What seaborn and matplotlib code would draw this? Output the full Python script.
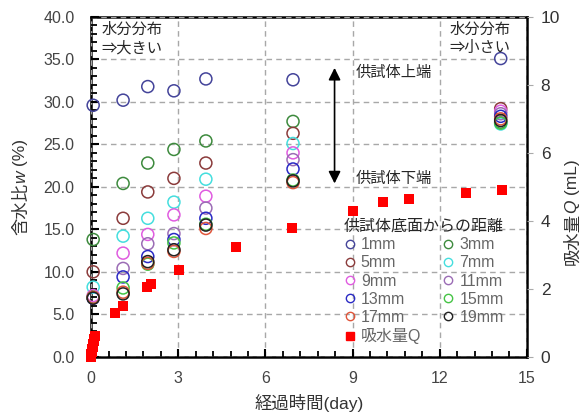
import numpy as np
import pandas as pd
import matplotlib
matplotlib.use("Agg")
import matplotlib.pyplot as plt
from matplotlib.ticker import MultipleLocator, FixedLocator, FormatStrFormatter
from matplotlib.lines import Line2D
from matplotlib.transforms import IdentityTransform
import seaborn as sns

# --- data ---
times_w = [0.07, 1.1, 1.95, 2.85, 3.95, 6.95, 14.1]
depths = ["1mm", "3mm", "5mm", "7mm", "9mm", "11mm", "13mm", "15mm", "17mm", "19mm"]
w_1mm = [29.6, 30.2, 31.8, 31.3, 32.7, 32.6, 35.1]
w_3mm = [13.8, 20.4, 22.8, 24.4, 25.4, 27.7, 27.6]
w_5mm = [10.0, 16.3, 19.4, 21.0, 22.8, 26.3, 29.2]
w_7mm = [8.2, 14.2, 16.3, 18.2, 20.9, 25.1, 27.4]
w_9mm = [7.2, 12.2, 14.4, 16.7, 18.9, 24.0, 28.9]
w_11mm = [7.0, 10.4, 13.3, 14.5, 17.5, 23.2, 28.6]
w_13mm = [6.9, 9.4, 11.8, 13.8, 16.3, 22.1, 28.3]
w_15mm = [7.0, 8.1, 10.9, 13.4, 15.6, 20.8, 27.5]
w_17mm = [7.0, 7.6, 11.0, 12.4, 15.1, 20.5, 28.0]
w_19mm = [6.9, 7.4, 11.2, 12.6, 15.5, 20.7, 27.8]

times_q = [0.0, 0.01, 0.02, 0.03, 0.05, 0.07, 0.09, 0.11, 0.13, 0.83, 1.11,
           1.94, 2.05, 3.04, 5.0, 6.92, 9.0, 10.05, 10.94, 12.9, 14.13]
q_ml = [0.0, 0.08, 0.15, 0.22, 0.3, 0.38, 0.45, 0.52, 0.6, 1.3, 1.5,
        2.05, 2.15, 2.56, 3.24, 3.8, 4.3, 4.54, 4.65, 4.83, 4.91]

colors = ["#44449a", "#3d8a3d", "#8b3b3b", "#45dede", "#e05ce0",
          "#9b6cb5", "#2a2ac4", "#45c445", "#e0553a", "#222222"]

w_all = [w_1mm, w_3mm, w_5mm, w_7mm, w_9mm, w_11mm, w_13mm, w_15mm, w_17mm, w_19mm]
df_w = pd.DataFrame([(t, v, d) for d, vals in zip(depths, w_all)
                     for t, v in zip(times_w, vals)], columns=["day", "w", "depth"])
df_q = pd.DataFrame({"day": times_q, "Q": q_ml})

sns.set_style("white")
plt.rcParams["font.family"] = ["Liberation Sans", "Noto Sans CJK JP", "DejaVu Sans"]

fig = plt.figure(figsize=(5.88, 4.12), dpi=100)
ax = fig.add_axes([0.155, 0.134, 0.741, 0.825])

sns.scatterplot(data=df_w, x="day", y="w", hue="depth", hue_order=depths,
                palette=colors, ax=ax, s=75, marker="o",
                linewidth=1.1, legend=False, clip_on=False, zorder=3)
# open circles: edge colour from hue
for coll in ax.collections:
    coll.set_edgecolors(coll.get_facecolors())
    coll.set_facecolors("none")

ax2 = ax.twinx()
sns.scatterplot(data=df_q, x="day", y="Q", ax=ax2, color="#ff0000", marker="s",
                s=60, edgecolor="#ff0000", linewidth=0, legend=False,
                clip_on=False, zorder=4)

ax.set_xlim(0, 15)
ax.set_ylim(0, 40)
ax2.set_ylim(0, 10)

ax.xaxis.set_major_locator(MultipleLocator(3))
ax.xaxis.set_minor_locator(FixedLocator(np.arange(0, 15.01, 0.6)))
ax.yaxis.set_major_locator(MultipleLocator(5))
ax.yaxis.set_minor_locator(MultipleLocator(1))
ax.yaxis.set_major_formatter(FormatStrFormatter("%.1f"))
ax2.yaxis.set_major_locator(MultipleLocator(2))
ax2.yaxis.set_minor_locator(plt.NullLocator())

ax.grid(True, which="major", linestyle=(0, (4, 3)), color="#a8a8a8", linewidth=1.0)
ax.set_axisbelow(False)
for sp in ax.spines.values():
    sp.set_linewidth(1.8)
    sp.set_color("black")
for sp in ax2.spines.values():
    sp.set_visible(False)

ax.xaxis.set_tick_params(which="both", bottom=True, top=False, direction="in",
                         color="black", labelcolor="#444444", labelsize=11.5, pad=10)
ax.yaxis.set_tick_params(which="both", left=True, right=False, direction="in",
                         color="black", labelcolor="#444444", labelsize=11.5, pad=12)
ax.tick_params(which="major", length=6, width=1.5)
ax.tick_params(which="minor", length=4, width=1.3)
ax2.yaxis.set_tick_params(which="major", direction="out", length=4, color="#aaaaaa",
                          right=True, left=False, labelcolor="#333333",
                          labelsize=12.5, pad=6)

ax.set_xlabel("経過時間(day)", fontsize=12.5, color="#333333", labelpad=6)
ax.set_ylabel("")
ax2.set_ylabel("")


def vlabel(parts, xc, yc):
    # rotated label made of pieces so the variable can be italic
    r = fig.canvas.get_renderer()
    arts = [fig.text(0, 0, s, rotation=90, fontsize=12.5, fontstyle=st,
                     color="#333333", ha="center", va="bottom",
                     transform=IdentityTransform()) for s, st in parts]
    hs = [a.get_window_extent(r).height for a in arts]
    y = yc - sum(hs) / 2
    for a, h in zip(arts, hs):
        a.set_position((xc, y))
        y += h


vlabel([("含水比", "normal"), ("w", "italic"), (" (%)", "normal")], 21, 412 - 187)
vlabel([("吸水量", "normal"), ("Q", "italic"), (" (mL)", "normal")], 572, 412 - 212)

# annotations
ax.text(0.35, 39.3, "水分分布\n⇒大きい", fontsize=11, va="top", ha="left",
        linespacing=1.35)
ax.text(12.35, 39.3, "水分分布\n⇒小さい", fontsize=11, va="top", ha="left",
        linespacing=1.35)
ax.text(9.1, 33.4, "供試体上端", fontsize=11, va="center", ha="left")
ax.text(9.1, 20.9, "供試体下端", fontsize=11, va="center", ha="left")
ax.annotate("", xy=(8.38, 34.0), xytext=(8.38, 20.4),
            arrowprops=dict(arrowstyle="<|-|>", color="black", lw=1.2,
                            mutation_scale=18, shrinkA=0, shrinkB=0))

# legend
handles = [Line2D([], [], linestyle="none", marker="o", markersize=6,
                  markerfacecolor="none", markeredgecolor=c, markeredgewidth=1.0,
                  label=d) for d, c in zip(depths, colors)]
q_handle = Line2D([], [], linestyle="none", marker="s", markersize=6,
                  color="#ff0000", label="吸水量Q")
order = [handles[i] for i in (0, 2, 4, 6, 8)] + [q_handle] + \
        [handles[i] for i in (1, 3, 5, 7, 9)]
leg = ax.legend(handles=order, ncol=2, title="供試体底面からの距離",
                loc="upper left", bbox_to_anchor=(0.575, 0.41), frameon=False,
                fontsize=11.5, title_fontsize=11.5, handletextpad=0.3,
                handlelength=0.8, labelspacing=0.2, columnspacing=1.3,
                borderaxespad=0, borderpad=0.1)
for t in leg.get_texts():
    t.set_color("#666666")
leg.set_zorder(5)

fig.savefig("out.png", dpi=100)
